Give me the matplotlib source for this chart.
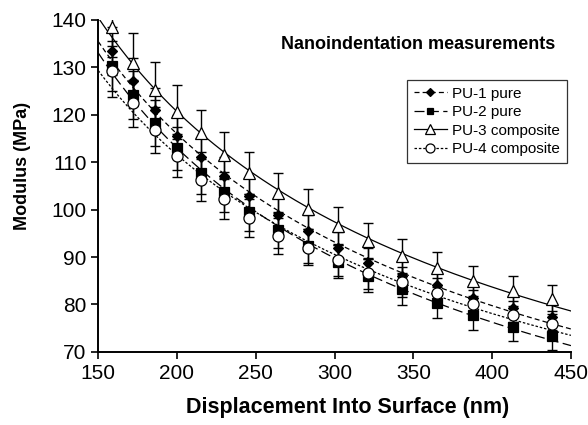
import numpy as np
import matplotlib.pyplot as plt

plt.rcParams['font.family'] = ['Liberation Sans', 'DejaVu Sans']

# displacement (nm)
depth = [159, 172, 186, 200, 215, 230, 246, 264, 283, 302, 321, 343, 365, 388, 413, 438]

# modulus (MPa)
pu1 = [133.5, 127.1, 121.0, 115.5, 111.0, 107.0, 102.9, 98.9, 95.5, 91.9, 88.7, 86.1, 84.1, 81.3, 79.2, 77.4]
pu2 = [130.3, 124.2, 118.3, 112.9, 107.8, 103.8, 99.4, 95.7, 92.3, 89.0, 86.1, 83.2, 80.4, 77.7, 75.3, 73.4]
pu3 = [138.6, 130.9, 125.2, 120.5, 116.1, 111.5, 107.7, 103.5, 100.2, 96.6, 93.3, 90.3, 87.6, 85.0, 82.9, 81.1]
pu4 = [129.2, 122.4, 116.8, 111.4, 106.3, 102.3, 98.2, 94.5, 91.9, 89.4, 86.6, 84.8, 82.5, 80.1, 77.8, 75.9]

# error bars (MPa)
pu1_err = [5.0, 4.8, 4.6, 4.4, 4.2, 4.0, 3.8, 3.6, 3.4, 3.3, 3.2, 3.1, 3.0, 2.9, 2.8, 2.7]
pu2_err = [5.2, 5.0, 4.8, 4.6, 4.4, 4.2, 4.0, 3.8, 3.6, 3.5, 3.4, 3.3, 3.2, 3.1, 3.0, 2.9]
pu3_err = [6.5, 6.3, 6.0, 5.7, 5.0, 4.8, 4.5, 4.3, 4.2, 4.0, 3.8, 3.6, 3.4, 3.2, 3.2, 3.1]
pu4_err = [5.4, 5.0, 4.8, 4.6, 4.4, 4.2, 4.0, 3.8, 3.6, 3.4, 3.3, 3.2, 3.1, 3.0, 2.9, 2.8]

labels = ['PU-1 pure', 'PU-2 pure', 'PU-3 composite', 'PU-4 composite']

fig = plt.figure(figsize=(5.88, 4.25), dpi=100)
ax = fig.add_axes([0.167, 0.172, 0.804, 0.781])

series = [
    (pu1, pu1_err, 'D', 'black', (0, (4, 2.5)), 5.5),
    (pu2, pu2_err, 's', 'black', (0, (8, 3.5)), 6.5),
    (pu3, pu3_err, '^', 'white', '-', 8),
    (pu4, pu4_err, 'o', 'white', (0, (2, 1.5)), 8),
]

xfit = np.linspace(150, 450, 200)
x = np.array(depth, dtype=float)
for (vals, err, mk, fc, ls, ms), lab in zip(series, labels):
    y = np.array(vals)
    # power trendline like the spreadsheet one
    b, a = np.polyfit(np.log(x), np.log(y), 1)
    ax.plot(xfit, np.exp(a) * xfit ** b, color='black', linestyle=ls, linewidth=0.9, zorder=2)
    ax.errorbar(x, y, yerr=err, fmt='none', ecolor='black', elinewidth=1.0,
                capsize=3.5, capthick=1.0, zorder=3)
    ax.plot(x, y, linestyle='none', marker=mk, markersize=ms, markerfacecolor=fc,
            markeredgecolor='black', markeredgewidth=0.9, zorder=4)
    # legend handle
    ax.plot([], [], color='black', linestyle=ls, linewidth=0.9, marker=mk, markersize=ms - 1.5,
            markerfacecolor=fc, markeredgecolor='black', markeredgewidth=0.9, label=lab)

ax.set_xlim(150, 450)
ax.set_ylim(70, 140)
ax.set_xticks(range(150, 451, 50))
ax.set_yticks(range(70, 141, 10))
ax.tick_params(direction='out', length=5, width=1.2, labelsize=15)
for side in ['top', 'right']:
    ax.spines[side].set_visible(False)
for side in ['left', 'bottom']:
    ax.spines[side].set_linewidth(1.4)

fig.text(348 / 588, 1 - 408 / 425, 'Displacement Into Surface (nm)', ha='center', va='center',
         fontsize=15.5, fontweight='bold')
fig.text(23 / 588, 1 - 166 / 425, 'Modulus (MPa)', ha='center', va='center', rotation=90,
         fontsize=13, fontweight='bold')
ax.text(0.677, 0.925, 'Nanoindentation measurements', transform=ax.transAxes,
        ha='center', va='center', fontsize=13, fontweight='bold')

leg = ax.legend(loc='upper right', bbox_to_anchor=(1.007, 0.843), fontsize=11,
                frameon=True, fancybox=False, edgecolor='black', handlelength=2.2,
                handletextpad=0.3, borderpad=0.45, labelspacing=0.3)
leg.get_frame().set_linewidth(0.9)

fig.savefig('out.png', dpi=100)
